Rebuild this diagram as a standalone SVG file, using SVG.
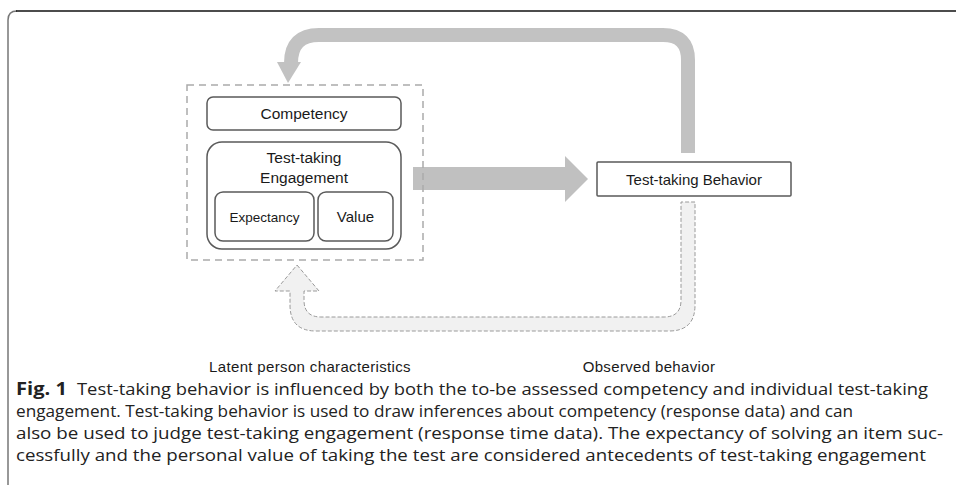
<svg xmlns="http://www.w3.org/2000/svg" width="956" height="485" viewBox="0 0 956 485">
<style>
.t{font-family:"Liberation Sans",Arial,sans-serif;fill:#1a1a1a;text-anchor:middle}
.box{fill:#fff;stroke:#5a5a5a;stroke-width:1.5}
.cap{font-family:"Open Sans","Noto Sans",sans-serif;font-size:17px;fill:#222}
.lab{font-family:"Liberation Sans",Arial,sans-serif;font-size:15px;fill:#1a1a1a;text-anchor:middle;letter-spacing:0.35px}
</style>
<rect width="956" height="485" fill="#fff"/>
<path d="M8 485 V20 Q8 11 17 11" fill="none" stroke="#777" stroke-width="1.5"/>
<path d="M16 11 H956" fill="none" stroke="#111" stroke-width="1.5"/>

<g id="connectors">
  <path d="M688 153 V60 Q688 35 663 35 H319 Q291 35 291 63" fill="none" stroke="#c2c2c2" stroke-width="14"/>
  <polygon points="277,62 301,62 288,83" fill="#c2c2c2"/>
  <polygon points="413,167 565,167 565,156 588,179 565,202 565,190 413,190" fill="#c0c0c0"/>
  <path d="M297 265 L319 291 H304 V300 Q304 317 321 317 H664 Q681 317 681 300 V202 H695 V305 Q695 331 669 331 H316 Q290 331 290 305 V291 H275 Z" fill="#f1f1f1" stroke="#9a9a9a" stroke-width="1" stroke-dasharray="4 2"/>
</g>

<g id="latent">
  <rect x="187" y="85" width="236" height="175" fill="none" stroke="#aaa" stroke-width="1.5" stroke-dasharray="7 5"/>
</g>
<g id="competency">
  <rect class="box" x="207" y="97" width="194" height="33" rx="6"/>
  <text class="t" x="304" y="119" font-size="15.5">Competency</text>
</g>
<g id="engagement">
  <rect class="box" x="207" y="142" width="194" height="107" rx="15"/>
  <text class="t" x="304" y="163" font-size="15.5">Test-taking</text>
  <text class="t" x="304" y="183" font-size="15.5">Engagement</text>
</g>
<g id="expectancy">
  <rect class="box" x="215" y="192" width="99" height="49" rx="8"/>
  <text class="t" x="264.5" y="222" font-size="13.5">Expectancy</text>
</g>
<g id="value">
  <rect class="box" x="318" y="192" width="75" height="49" rx="8"/>
  <text class="t" x="355.5" y="222" font-size="15">Value</text>
</g>
<g id="behavior">
  <rect class="box" x="597" y="162" width="194" height="34" rx="1"/>
  <text class="t" x="694" y="185" font-size="15">Test-taking Behavior</text>
</g>

<text class="lab" x="310" y="372">Latent person characteristics</text>
<text class="lab" x="649" y="372">Observed behavior</text>

<text class="cap" x="16" y="395" font-weight="bold" textLength="51" lengthAdjust="spacingAndGlyphs">Fig. 1</text>
<text class="cap" x="77" y="395" textLength="851" lengthAdjust="spacingAndGlyphs">Test-taking behavior is influenced by both the to-be assessed competency and individual test-taking</text>
<text class="cap" x="16" y="417" textLength="837" lengthAdjust="spacingAndGlyphs">engagement. Test-taking behavior is used to draw inferences about competency (response data) and can</text>
<text class="cap" x="16" y="439" textLength="927" lengthAdjust="spacingAndGlyphs">also be used to judge test-taking engagement (response time data). The expectancy of solving an item suc-</text>
<text class="cap" x="16" y="461" textLength="910" lengthAdjust="spacingAndGlyphs">cessfully and the personal value of taking the test are considered antecedents of test-taking engagement</text>
</svg>
